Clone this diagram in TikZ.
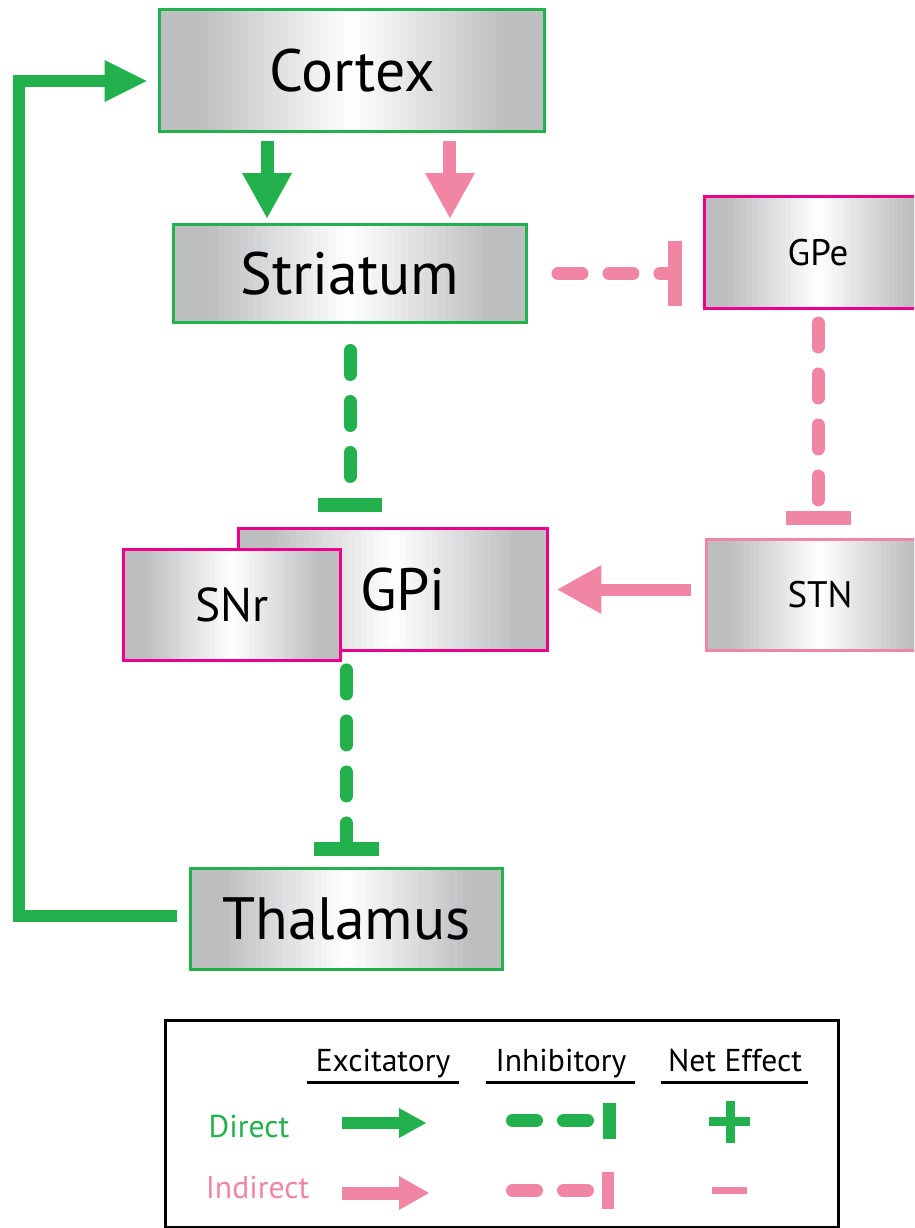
\documentclass[tikz,border=0pt]{standalone}
\usepackage{fontspec}
\setmainfont{PT Sans}
\usetikzlibrary{arrows.meta,calc}
\definecolor{dirgreen}{RGB}{34,177,76}
\definecolor{indpink}{RGB}{240,134,164}
\definecolor{gpmag}{RGB}{236,0,140}
\definecolor{boxgray}{RGB}{189,190,192}

\begin{document}
\begin{tikzpicture}[x=0.02cm,y=-0.02cm,
  area/.style={draw,line width=0.06cm,fill=boxgray,inner sep=0pt,text=black,
    path picture={
      \foreach \i in {0,...,47} {
        \pgfmathsetmacro\w{100*max(0,1-abs((\i+0.5)/48-0.5)*2/0.8)}
        \pgfmathsetmacro\s{\i/48}
        \pgfmathsetmacro\e{min(1,(\i+1.4)/48)}
        \fill[white!\w!boxgray] ($(path picture bounding box.south west)!\s!(path picture bounding box.south east)$)
          rectangle ($(path picture bounding box.north west)!\e!(path picture bounding box.north east)$);
      }}},
  big/.style={font=\fontsize{34}{36}\selectfont},
  mid/.style={font=\fontsize{27}{30}\selectfont},
  small/.style={font=\fontsize{21}{24}\selectfont},
  leg/.style={font=\fontsize{18}{20}\selectfont},
  exc/.style={line width=0.26cm,-{Triangle[length=0.9cm,width=1cm,line width=0pt]}},
  inh/.style={line width=0.26cm,line cap=round,dash pattern=on 0.48cm off 0.54cm,-{Bar[width=1.3cm,line width=0.28cm]}},
  fbk/.style={line width=0.24cm,-{Triangle[length=0.84cm,width=0.84cm,line width=0pt]}}]
  \clip (0,0) rectangle (914,1228);

  \node[area,big,draw=dirgreen,minimum width=7.7cm,minimum height=2.44cm]   (Ctx)  at (352,70.5)   {Cortex};
  \node[area,big,draw=dirgreen,minimum width=7.06cm,minimum height=1.96cm]  (Str)  at (350,273.5)  {Striatum};
  \node[area,small,draw=gpmag,minimum width=4.54cm,minimum height=2.24cm]   (GPe)  at (818,252.5)  {GPe};
  \node[area,big,draw=gpmag,minimum width=6.18cm,minimum height=2.44cm]     (GPi)  at (393,589.5)  {\hspace{0.4cm}GPi};
  \node[area,mid,draw=gpmag,minimum width=4.34cm,minimum height=2.22cm]     (SNr)  at (232,605)    {SNr};
  \node[area,small,draw=indpink,minimum width=4.54cm,minimum height=2.22cm] (STN)  at (820,595)    {STN};
  \node[area,big,draw=dirgreen,minimum width=6.24cm,minimum height=2.02cm]  (Thal) at (346.5,919)  {Thalamus};
  \coordinate (fb) at (19,500);

  \path ([xshift=-1.7cm]Ctx.south) edge[exc,dirgreen,shorten <=0.16cm,shorten >=0.1cm] ([xshift=-1.66cm]Str.north)
        ([xshift=1.96cm]Ctx.south) edge[exc,indpink,shorten <=0.16cm,shorten >=0.1cm] ([xshift=2cm]Str.north)
        (Str.east) edge[inh,indpink,shorten <=0.6cm,shorten >=0.43cm] (Str.east -| GPe.west)
        (GPe.south) edge[inh,indpink,shorten <=0.26cm,shorten >=0.27cm] (GPe.south |- STN.north)
        (Str.south) edge[inh,dirgreen,shorten <=0.53cm,shorten >=0.31cm] (Str.south |- GPi.north)
        (GPi.south -| Thal.north) edge[inh,dirgreen,shorten <=0.36cm,shorten >=0.23cm] (Thal.north)
        (STN.west |- GPi.east) edge[exc,indpink,line width=0.24cm,-{Triangle[length=0.88cm,width=0.98cm,line width=0pt]},
                                   shorten <=0.29cm,shorten >=0.17cm] (GPi.east);
  \draw[fbk,dirgreen,shorten <=0.25cm,shorten >=0.23cm] ([yshift=0.06cm]Thal.west) -| (fb) |- ([yshift=-0.21cm]Ctx.west);

  \draw[line width=0.06cm] (165,1020) rectangle (838,1227);
  \node[leg,anchor=base] (hexc) at (383,1071) {Excitatory};
  \node[leg,anchor=base] (hinh) at (561,1071) {Inhibitory};
  \node[leg,anchor=base] (hnet) at (735,1071) {Net Effect};
  \draw[line width=0.06cm] (307,1082) -- (459,1082) (486,1082) -- (635,1082) (661,1082) -- (808,1082);
  \node[leg,anchor=base,text=dirgreen] (ldir) at (249,1137)   {Direct};
  \node[leg,anchor=base,text=indpink]  (lind) at (257.5,1198) {Indirect};
  \draw[dirgreen,line width=0.24cm,-{Triangle[length=0.54cm,width=0.6cm,line width=0pt]}] (342,1123) -- (426,1123);
  \draw[indpink,line width=0.26cm,-{Triangle[length=0.6cm,width=0.68cm,line width=0pt]}] (342,1193) -- (429,1193);
  \draw[inh,dirgreen,-{Bar[width=0.72cm,line width=0.26cm]}] (512.5,1120.5) -- (616,1120.5);
  \draw[inh,indpink,-{Bar[width=0.74cm,line width=0.24cm]}] (512.5,1190.5) -- (614,1190.5);
  \draw[dirgreen,line width=0.18cm] (709,1121.5) -- (750,1121.5) (730,1101) -- (730,1143);
  \draw[indpink,line width=0.14cm] (712,1190.5) -- (747,1190.5);
\end{tikzpicture}
\end{document}
